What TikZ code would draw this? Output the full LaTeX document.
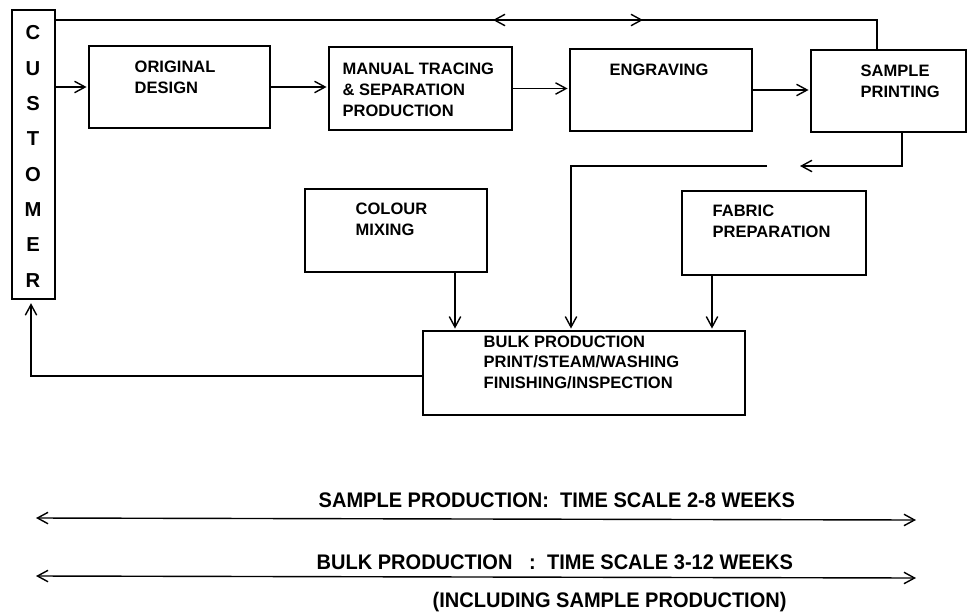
\documentclass[tikz,border=0pt]{standalone}
\usepackage{fontspec}
\setmainfont{Liberation Sans}
\newfontfamily\condfont[FakeStretch=0.95]{Liberation Sans}
\usetikzlibrary{arrows.meta,fit}
\begin{document}
\begin{tikzpicture}[x=0.02cm,y=-0.02cm, line width=0.8pt,
  box/.style={draw, inner sep=0pt},
  lbl/.style={anchor=north west, inner sep=0pt, align=left, font=\fontsize{9.4}{11.9}\selectfont\bfseries},
  tl/.style={anchor=north west, inner sep=0pt, font=\condfont\fontsize{12}{14}\selectfont\bfseries},
  arr/.style={-{Straight Barb[length=6pt,width=6.5pt]}, shorten >=1pt},
  barr/.style={{Straight Barb[length=6pt,width=6.5pt]}-{Straight Barb[length=6pt,width=6.5pt]}}
]
\useasboundingbox (0,0) rectangle (968,613);

% boxes
\coordinate (cu1) at (12,10);   \coordinate (cu2) at (55,299);
\coordinate (od1) at (89,46);   \coordinate (od2) at (270,128);
\coordinate (mt1) at (329,47);  \coordinate (mt2) at (512,130);
\coordinate (en1) at (570,49);  \coordinate (en2) at (752,131);
\coordinate (sp1) at (811,50);  \coordinate (sp2) at (966,132);
\coordinate (cm1) at (305,189); \coordinate (cm2) at (487,272);
\coordinate (fp1) at (682,191); \coordinate (fp2) at (866,275);
\coordinate (bp1) at (423,331); \coordinate (bp2) at (745,415);
\node[box, fit=(cu1)(cu2)] (cu) {};
\node[box, fit=(od1)(od2)] (od) {};
\node[box, fit=(mt1)(mt2)] (mt) {};
\node[box, fit=(en1)(en2)] (en) {};
\node[box, fit=(sp1)(sp2)] (sp) {};
\node[box, fit=(cm1)(cm2)] (cm) {};
\node[box, fit=(fp1)(fp2)] (fp) {};
\node[box, fit=(bp1)(bp2)] (bp) {};

% texts
\node[anchor=north, inner sep=0pt, align=center, font=\fontsize{11.5}{20.1}\selectfont\bfseries] (cut) at (33,25) {C\\U\\S\\T\\O\\M\\E\\R};
\node[lbl] (odt) at (134,60) {ORIGINAL\\DESIGN};
\node[lbl] (mtt) at (342,62) {MANUAL TRACING\\\& SEPARATION\\PRODUCTION};
\node[lbl] (ent) at (609,63) {ENGRAVING};
\node[lbl] (spt) at (860,64) {SAMPLE\\PRINTING};
\node[lbl] (cmt) at (355,202) {COLOUR\\MIXING};
\node[lbl] (fpt) at (712,204) {FABRIC\\PREPARATION};
\node[lbl, font=\fontsize{9.4}{11.6}\selectfont\bfseries] (bpt) at (483,335) {BULK PRODUCTION\\PRINT/STEAM/WASHING\\FINISHING/INSPECTION};
\node[tl] (t1) at (318,492) {SAMPLE PRODUCTION:\ \ TIME SCALE 2-8 WEEKS};
\node[tl] (t2) at (316,554) {BULK PRODUCTION\ \ \ :\ \ TIME SCALE 3-12 WEEKS};
\node[tl] (t3) at (432,592) {(INCLUDING SAMPLE PRODUCTION)};

% main flow
\draw[arr] (cu.east |- od.west) -- (od.west);
\draw[arr] (od.east) -- (od.east -| mt.west);
\draw[arr] (mt.east) -- (mt.east -| en.west);
\draw[arr] (en.east) -- (en.east -| sp.west);

% top feedback line
\coordinate (tr) at (877,20);
\draw (sp.north -| tr) -- (tr) -- (cu.east |- tr);
\coordinate (ml) at (493,20);
\coordinate (mr) at (643,20);
\draw[arr, shorten >=0pt] ([xshift=10pt]ml) -- (ml);
\draw[arr, shorten >=0pt] ([xshift=-10pt]mr) -- (mr);

% sample printing to bulk
\coordinate (a1) at (902,166);
\coordinate (a2) at (800,166);
\coordinate (a3) at (767,166);
\coordinate (a4) at (571,166);
\draw[arr, shorten >=0pt] (sp.south -| a1) -- (a1) -- (a2);
\draw[arr] (a3) -- (a4) -- (a4 |- bp.north);

% colour mixing and fabric preparation to bulk
\coordinate (c1) at (455,0);
\coordinate (f1) at (712,0);
\draw[arr] (cm.south -| c1) -- (c1 |- bp.north);
\draw[arr] (fp.south -| f1) -- (f1 |- bp.north);

% bulk back to customer
\coordinate (b1) at (31,376);
\draw[arr, shorten >=2pt] (bp.west |- b1) -- (b1) -- (b1 |- cu.south);

% time scales
\coordinate (l1a) at (36,518);
\coordinate (l1b) at (916,520);
\coordinate (l2a) at (36,576);
\coordinate (l2b) at (916,578);
\draw[barr] (l1a) -- (l1b);
\draw[barr] (l2a) -- (l2b);
\end{tikzpicture}
\end{document}
